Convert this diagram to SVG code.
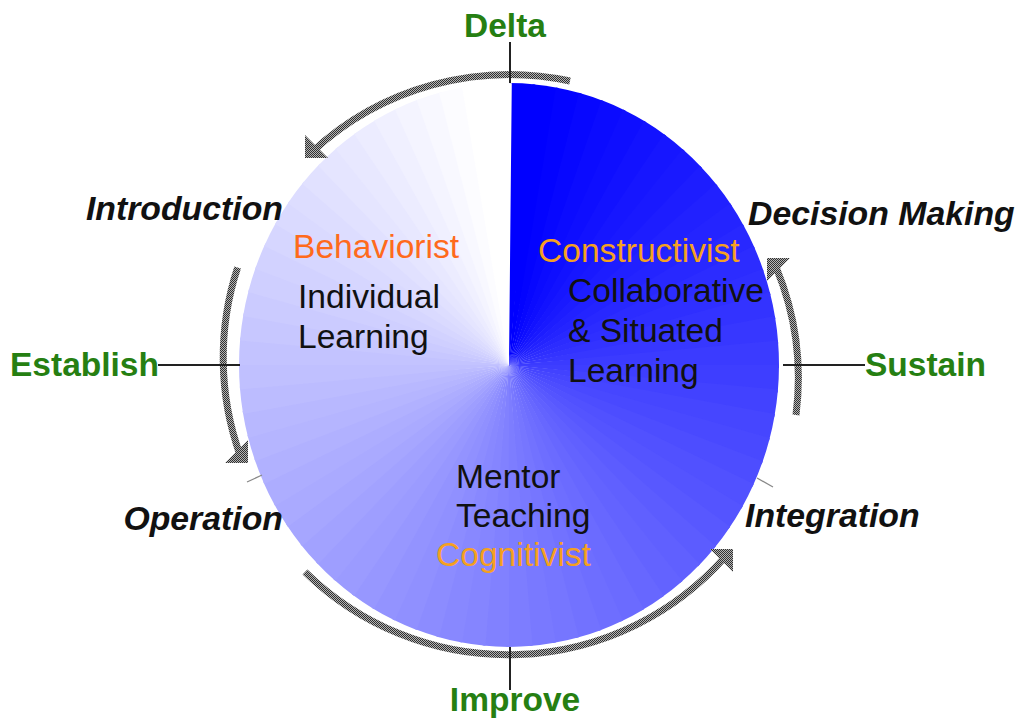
<svg xmlns="http://www.w3.org/2000/svg" width="1019" height="719" viewBox="0 0 1019 719">
  <style>
    .w { fill: none; stroke-width: 270; stroke-dasharray: 5.6 354.4; }
    .shaft { fill: none; stroke: url(#checker); stroke-width: 7; }
    .head { fill: url(#checker); }
    .tick { stroke: #222; stroke-width: 2; }
    .lead { stroke: #888; stroke-width: 1.2; }
    .phase { font-family: "Liberation Sans", Arial, sans-serif; font-size: 33.5px; font-weight: bold; fill: #267f12; }
    .step { font-family: "Liberation Sans", Arial, sans-serif; font-size: 33.8px; font-weight: bold; font-style: italic; fill: #111; }
    .body { font-family: "Liberation Sans", Arial, sans-serif; font-size: 33.6px; fill: #111; }
    .red { fill: #ff6a1c; }
    .amber { fill: #f5a021; }
  </style>
  <defs>
    <pattern id="checker" width="2" height="2" patternUnits="userSpaceOnUse">
      <rect width="2" height="2" fill="#b4b4b4"/>
      <rect width="1" height="1" fill="#303030"/>
      <rect x="1" y="1" width="1" height="1" fill="#303030"/>
    </pattern>
  </defs>

  <!-- shaded wheel: 72 wedges fading from blue to white clockwise from 12 o'clock -->
  <g id="wheel" transform="translate(509 365) scale(1 1.044) rotate(-90)">
    <circle class="w" r="135" pathLength="360" stroke-dashoffset="0" stroke="rgb(0,0,255)"/>
    <circle class="w" r="135" pathLength="360" stroke-dashoffset="-5" stroke="rgb(0,0,255)"/>
    <circle class="w" r="135" pathLength="360" stroke-dashoffset="-10" stroke="rgb(3,3,255)"/>
    <circle class="w" r="135" pathLength="360" stroke-dashoffset="-15" stroke="rgb(7,7,255)"/>
    <circle class="w" r="135" pathLength="360" stroke-dashoffset="-20" stroke="rgb(11,11,255)"/>
    <circle class="w" r="135" pathLength="360" stroke-dashoffset="-25" stroke="rgb(14,14,255)"/>
    <circle class="w" r="135" pathLength="360" stroke-dashoffset="-30" stroke="rgb(18,18,255)"/>
    <circle class="w" r="135" pathLength="360" stroke-dashoffset="-35" stroke="rgb(22,22,255)"/>
    <circle class="w" r="135" pathLength="360" stroke-dashoffset="-40" stroke="rgb(25,25,255)"/>
    <circle class="w" r="135" pathLength="360" stroke-dashoffset="-45" stroke="rgb(29,29,255)"/>
    <circle class="w" r="135" pathLength="360" stroke-dashoffset="-50" stroke="rgb(33,33,255)"/>
    <circle class="w" r="135" pathLength="360" stroke-dashoffset="-55" stroke="rgb(36,36,255)"/>
    <circle class="w" r="135" pathLength="360" stroke-dashoffset="-60" stroke="rgb(40,40,255)"/>
    <circle class="w" r="135" pathLength="360" stroke-dashoffset="-65" stroke="rgb(44,44,255)"/>
    <circle class="w" r="135" pathLength="360" stroke-dashoffset="-70" stroke="rgb(47,47,255)"/>
    <circle class="w" r="135" pathLength="360" stroke-dashoffset="-75" stroke="rgb(51,51,255)"/>
    <circle class="w" r="135" pathLength="360" stroke-dashoffset="-80" stroke="rgb(55,55,255)"/>
    <circle class="w" r="135" pathLength="360" stroke-dashoffset="-85" stroke="rgb(59,59,255)"/>
    <circle class="w" r="135" pathLength="360" stroke-dashoffset="-90" stroke="rgb(62,62,255)"/>
    <circle class="w" r="135" pathLength="360" stroke-dashoffset="-95" stroke="rgb(66,66,255)"/>
    <circle class="w" r="135" pathLength="360" stroke-dashoffset="-100" stroke="rgb(70,70,255)"/>
    <circle class="w" r="135" pathLength="360" stroke-dashoffset="-105" stroke="rgb(73,73,255)"/>
    <circle class="w" r="135" pathLength="360" stroke-dashoffset="-110" stroke="rgb(77,77,255)"/>
    <circle class="w" r="135" pathLength="360" stroke-dashoffset="-115" stroke="rgb(81,81,255)"/>
    <circle class="w" r="135" pathLength="360" stroke-dashoffset="-120" stroke="rgb(84,84,255)"/>
    <circle class="w" r="135" pathLength="360" stroke-dashoffset="-125" stroke="rgb(88,88,255)"/>
    <circle class="w" r="135" pathLength="360" stroke-dashoffset="-130" stroke="rgb(92,92,255)"/>
    <circle class="w" r="135" pathLength="360" stroke-dashoffset="-135" stroke="rgb(96,96,255)"/>
    <circle class="w" r="135" pathLength="360" stroke-dashoffset="-140" stroke="rgb(99,99,255)"/>
    <circle class="w" r="135" pathLength="360" stroke-dashoffset="-145" stroke="rgb(103,103,255)"/>
    <circle class="w" r="135" pathLength="360" stroke-dashoffset="-150" stroke="rgb(107,107,255)"/>
    <circle class="w" r="135" pathLength="360" stroke-dashoffset="-155" stroke="rgb(110,110,255)"/>
    <circle class="w" r="135" pathLength="360" stroke-dashoffset="-160" stroke="rgb(114,114,255)"/>
    <circle class="w" r="135" pathLength="360" stroke-dashoffset="-165" stroke="rgb(118,118,255)"/>
    <circle class="w" r="135" pathLength="360" stroke-dashoffset="-170" stroke="rgb(121,121,255)"/>
    <circle class="w" r="135" pathLength="360" stroke-dashoffset="-175" stroke="rgb(125,125,255)"/>
    <circle class="w" r="135" pathLength="360" stroke-dashoffset="-180" stroke="rgb(129,129,255)"/>
    <circle class="w" r="135" pathLength="360" stroke-dashoffset="-185" stroke="rgb(133,133,255)"/>
    <circle class="w" r="135" pathLength="360" stroke-dashoffset="-190" stroke="rgb(136,136,255)"/>
    <circle class="w" r="135" pathLength="360" stroke-dashoffset="-195" stroke="rgb(140,140,255)"/>
    <circle class="w" r="135" pathLength="360" stroke-dashoffset="-200" stroke="rgb(144,144,255)"/>
    <circle class="w" r="135" pathLength="360" stroke-dashoffset="-205" stroke="rgb(147,147,255)"/>
    <circle class="w" r="135" pathLength="360" stroke-dashoffset="-210" stroke="rgb(151,151,255)"/>
    <circle class="w" r="135" pathLength="360" stroke-dashoffset="-215" stroke="rgb(155,155,255)"/>
    <circle class="w" r="135" pathLength="360" stroke-dashoffset="-220" stroke="rgb(158,158,255)"/>
    <circle class="w" r="135" pathLength="360" stroke-dashoffset="-225" stroke="rgb(162,162,255)"/>
    <circle class="w" r="135" pathLength="360" stroke-dashoffset="-230" stroke="rgb(166,166,255)"/>
    <circle class="w" r="135" pathLength="360" stroke-dashoffset="-235" stroke="rgb(170,170,255)"/>
    <circle class="w" r="135" pathLength="360" stroke-dashoffset="-240" stroke="rgb(173,173,255)"/>
    <circle class="w" r="135" pathLength="360" stroke-dashoffset="-245" stroke="rgb(177,177,255)"/>
    <circle class="w" r="135" pathLength="360" stroke-dashoffset="-250" stroke="rgb(181,181,255)"/>
    <circle class="w" r="135" pathLength="360" stroke-dashoffset="-255" stroke="rgb(184,184,255)"/>
    <circle class="w" r="135" pathLength="360" stroke-dashoffset="-260" stroke="rgb(188,188,255)"/>
    <circle class="w" r="135" pathLength="360" stroke-dashoffset="-265" stroke="rgb(192,192,255)"/>
    <circle class="w" r="135" pathLength="360" stroke-dashoffset="-270" stroke="rgb(195,195,255)"/>
    <circle class="w" r="135" pathLength="360" stroke-dashoffset="-275" stroke="rgb(199,199,255)"/>
    <circle class="w" r="135" pathLength="360" stroke-dashoffset="-280" stroke="rgb(203,203,255)"/>
    <circle class="w" r="135" pathLength="360" stroke-dashoffset="-285" stroke="rgb(207,207,255)"/>
    <circle class="w" r="135" pathLength="360" stroke-dashoffset="-290" stroke="rgb(210,210,255)"/>
    <circle class="w" r="135" pathLength="360" stroke-dashoffset="-295" stroke="rgb(214,214,255)"/>
    <circle class="w" r="135" pathLength="360" stroke-dashoffset="-300" stroke="rgb(218,218,255)"/>
    <circle class="w" r="135" pathLength="360" stroke-dashoffset="-305" stroke="rgb(221,221,255)"/>
    <circle class="w" r="135" pathLength="360" stroke-dashoffset="-310" stroke="rgb(225,225,255)"/>
    <circle class="w" r="135" pathLength="360" stroke-dashoffset="-315" stroke="rgb(229,229,255)"/>
    <circle class="w" r="135" pathLength="360" stroke-dashoffset="-320" stroke="rgb(232,232,255)"/>
    <circle class="w" r="135" pathLength="360" stroke-dashoffset="-325" stroke="rgb(236,236,255)"/>
    <circle class="w" r="135" pathLength="360" stroke-dashoffset="-330" stroke="rgb(240,240,255)"/>
    <circle class="w" r="135" pathLength="360" stroke-dashoffset="-335" stroke="rgb(244,244,255)"/>
    <circle class="w" r="135" pathLength="360" stroke-dashoffset="-340" stroke="rgb(248,248,255)"/>
    <circle class="w" r="135" pathLength="360" stroke-dashoffset="-345" stroke="rgb(252,252,255)"/>
    <circle class="w" r="135" pathLength="360" stroke-dashoffset="-350" stroke="rgb(255,255,255)"/>
    <circle class="w" r="135" pathLength="360" stroke-dashoffset="-355" stroke="rgb(255,255,255)"/>
  </g>

  <!-- cycle arrows and tick lines -->
  <g id="connectors">
    <path class="shaft" d="M570,81 A290,290 0 0 0 312,152"/>
    <polygon class="head" points="305,158 305,135 328,158"/>
    <path class="shaft" d="M237.6,267.5 A290,290 0 0 0 240,455"/>
    <polygon class="head" points="248,463 248,440 225,463"/>
    <path class="shaft" d="M305,572 A290,290 0 0 0 725,557"/>
    <polygon class="head" points="733,549 710,549 733,572"/>
    <path class="shaft" d="M796,415 A290,290 0 0 0 776,267"/>
    <polygon class="head" points="767,258 790,258 767,281"/>

    <line class="tick" x1="510" y1="42" x2="510" y2="83"/>
    <line class="tick" x1="510" y1="647" x2="510" y2="690"/>
    <line class="tick" x1="158" y1="365" x2="240" y2="365"/>
    <line class="tick" x1="783" y1="365" x2="865" y2="365"/>
    <line class="lead" x1="247" y1="482" x2="262" y2="475"/>
    <line class="lead" x1="757" y1="478" x2="773" y2="487"/>
  </g>

  <!-- outer phase labels -->
  <g id="delta"><text class="phase" x="505" y="37" text-anchor="middle">Delta</text></g>
  <g id="sustain"><text class="phase" x="865" y="376">Sustain</text></g>
  <g id="improve"><text class="phase" x="515" y="711" text-anchor="middle">Improve</text></g>
  <g id="establish"><text class="phase" x="10" y="376">Establish</text></g>

  <!-- step labels -->
  <g id="introduction"><text class="step" x="283" y="220" text-anchor="end">Introduction</text></g>
  <g id="decision-making"><text class="step" x="748" y="225">Decision Making</text></g>
  <g id="integration"><text class="step" x="745" y="527">Integration</text></g>
  <g id="operation"><text class="step" x="283" y="530" text-anchor="end">Operation</text></g>

  <!-- learning theories inside the wheel -->
  <g id="behaviorist">
    <text class="body red" x="293" y="258">Behaviorist</text>
    <text class="body" x="298" y="308">Individual</text>
    <text class="body" x="298" y="348">Learning</text>
  </g>
  <g id="constructivist">
    <text class="body amber" x="538" y="262">Constructivist</text>
    <text class="body" x="568" y="302">Collaborative</text>
    <text class="body" x="568" y="342">&amp; Situated</text>
    <text class="body" x="568" y="382">Learning</text>
  </g>
  <g id="cognitivist">
    <text class="body" x="456" y="488">Mentor</text>
    <text class="body" x="456" y="527">Teaching</text>
    <text class="body amber" x="436" y="566">Cognitivist</text>
  </g>
</svg>
